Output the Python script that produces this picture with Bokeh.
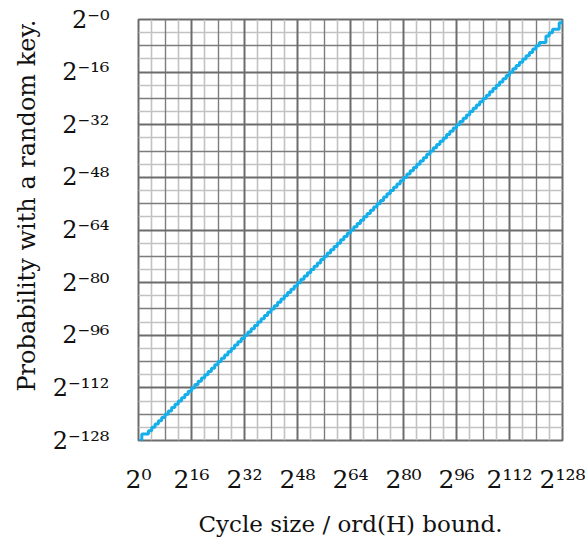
from bokeh.plotting import figure
from bokeh.models import Range1d, FixedTicker, Grid, Title
from bokeh.embed import file_html
from bokeh.resources import INLINE

# exponent of cycle size (log2) and exponent of probability (log2)
cycle_exp = list(range(0, 129))
prob_exp = [
    -128, -126, -126, -125, -124, -123, -122, -121, -120, -119, -118, -117, -116, -115, -114, -113,
    -112, -111, -110, -109, -108, -107, -106, -105, -104, -103, -102, -101, -100, -99, -98, -97,
    -96, -95, -94, -93, -92, -91, -90, -89, -88, -87, -86, -85, -84, -83, -82, -81,
    -80, -79, -78, -77, -76, -75, -74, -73, -72, -71, -70, -69, -68, -67, -66, -65,
    -64, -63, -62, -61, -60, -59, -58, -57, -56, -55, -54, -53, -52, -51, -50, -49,
    -48, -47, -46, -45, -44, -43, -42, -41, -40, -39, -38, -37, -36, -35, -34, -33,
    -32, -31, -30, -29, -28, -27, -26, -25, -24, -23, -22, -21, -20, -19, -18, -17,
    -16, -15, -14, -13, -12, -11, -10, -9, -8, -7, -7, -5, -4, -3, -3, -1,
    0]

x_ticks = [0, 16, 32, 48, 64, 80, 96, 112, 128]
x_tick_labels = ["2⁰", "2¹⁶", "2³²", "2⁴⁸", "2⁶⁴", "2⁸⁰", "2⁹⁶", "2¹¹²", "2¹²⁸"]
y_ticks = [0, -16, -32, -48, -64, -80, -96, -112, -128]
y_tick_labels = ["2⁻⁰", "2⁻¹⁶", "2⁻³²", "2⁻⁴⁸", "2⁻⁶⁴", "2⁻⁸⁰", "2⁻⁹⁶", "2⁻¹¹²", "2⁻¹²⁸"]

x_label = "Cycle size / ord(H) bound."
y_label = "Probability with a random key."

FONT = "DejaVu Serif"

p = figure(width=585, height=539, output_backend="svg", toolbar_location=None,
           x_range=Range1d(0, 128), y_range=Range1d(-128, 0),
           min_border_left=138, min_border_right=23, min_border_top=19, min_border_bottom=97)

p.xgrid.visible = False
p.ygrid.visible = False

minor_x = [v for v in range(4, 128, 8)]
mid_x = [v for v in range(8, 128, 16)]
major_x = [v for v in range(16, 128, 16)]
minor_y = [-v for v in minor_x]
mid_y = [-v for v in mid_x]
major_y = [-v for v in major_x]

for ticks_x, ticks_y, col, w in [(minor_x, minor_y, "#c2c2c2", 1.6),
                                  (mid_x, mid_y, "#7c7c7c", 1.4),
                                  (major_x, major_y, "#6c6c6c", 2.0)]:
    p.add_layout(Grid(dimension=0, ticker=FixedTicker(ticks=ticks_x),
                      grid_line_color=col, grid_line_width=w))
    p.add_layout(Grid(dimension=1, ticker=FixedTicker(ticks=ticks_y),
                      grid_line_color=col, grid_line_width=w))

p.step(cycle_exp, prob_exp, mode="after", line_color="#14aeea", line_width=3)

p.outline_line_color = "#6c6c6c"
p.outline_line_width = 2

p.xaxis.ticker = FixedTicker(ticks=x_ticks)
p.yaxis.ticker = FixedTicker(ticks=y_ticks)
p.xaxis.major_label_overrides = dict(zip(x_ticks, x_tick_labels))
p.yaxis.major_label_overrides = dict(zip(y_ticks, y_tick_labels))

for ax in (p.xaxis, p.yaxis):
    ax.axis_line_color = None
    ax.major_tick_line_color = None
    ax.minor_tick_line_color = None
    ax.major_label_text_font = FONT
    ax.major_label_text_font_size = "25px"
    ax.major_label_text_color = "#111111"
    ax.axis_label_text_font = FONT
    ax.axis_label_text_font_style = "normal"
    ax.axis_label_text_font_size = "23px"
    ax.axis_label_text_color = "#111111"

p.yaxis.major_label_text_font_size = "24px"
p.xaxis.major_label_standoff = 18
p.yaxis.major_label_standoff = 23
p.xaxis.axis_label = x_label
p.xaxis.axis_label_standoff = 14

ytitle = Title(text=y_label, align="right", offset=0, text_font=FONT,
               text_font_size="24px", text_font_style="normal", text_color="#111111",
               standoff=18, text_line_height=0.8)
p.add_layout(ytitle, "left")

open("out.html", "w").write(file_html(p, INLINE))
